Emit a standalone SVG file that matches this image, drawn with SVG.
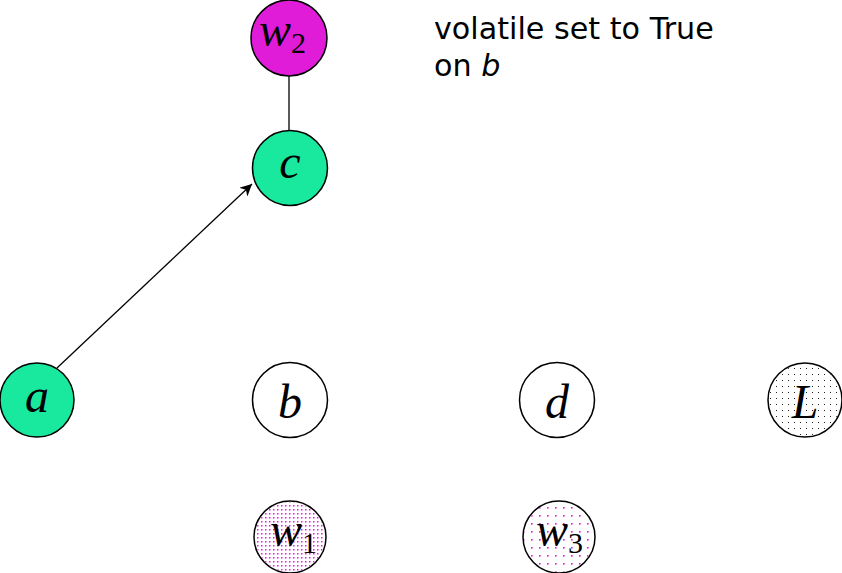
<svg xmlns="http://www.w3.org/2000/svg" width="842" height="573" viewBox="0 0 842 573">
<style>
.n{stroke:#000;stroke-width:1.5}
.m{font-family:"Liberation Serif","DejaVu Serif",serif;font-style:italic;font-size:48px;text-anchor:middle;fill:#000}
.w{text-anchor:start}
.s{font-family:"Liberation Serif","DejaVu Serif",serif;font-style:normal;font-size:30px}
.t{font-family:"DejaVu Sans",sans-serif;font-size:30.2px;fill:#000}
.e{stroke:#000;stroke-width:1.3;fill:none}
</style>
<defs>
<pattern id="pL" width="6" height="6" patternUnits="userSpaceOnUse"><rect x="2" y="2" width="1" height="1" fill="#222"/></pattern>
<pattern id="pW1" width="4" height="4" patternUnits="userSpaceOnUse"><rect x="1" y="1" width="1.5" height="1.5" fill="#e81ce0"/></pattern>
<pattern id="pW3" width="8" height="8" patternUnits="userSpaceOnUse"><rect x="3" y="3" width="1.6" height="1.6" fill="#e01cd8"/></pattern>
<marker id="ar" viewBox="0 0 10 10" refX="10" refY="5" markerWidth="12" markerHeight="12" markerUnits="userSpaceOnUse" orient="auto"><path d="M0,0 L10,5 L0,10 L3,5 z" fill="#000"/></marker>
</defs>
<g id="edges">
<line class="e" x1="289" y1="76" x2="289" y2="130"/>
<line class="e" x1="57" y1="368" x2="252" y2="184" marker-end="url(#ar)"/>
</g>
<g id="w2"><circle class="n" cx="289" cy="38" r="38" fill="#e01cd8"/><text class="m w" x="259" y="46">w<tspan class="s" dy="7">2</tspan></text></g>
<g id="c"><circle class="n" cx="290" cy="168" r="37.5" fill="#19e99e"/><text class="m" x="290" y="178">c</text></g>
<g id="a"><circle class="n" cx="37" cy="400" r="37" fill="#19e99e"/><text class="m" x="37" y="412">a</text></g>
<g id="b"><circle class="n" cx="290" cy="400" r="37.5" fill="#fff"/><text class="m" x="290" y="418">b</text></g>
<g id="d"><circle class="n" cx="557" cy="400" r="37.5" fill="#fff"/><text class="m" x="557" y="418">d</text></g>
<g id="L"><circle class="n" cx="805" cy="400" r="37" fill="#fff"/><circle cx="805" cy="400" r="36" fill="url(#pL)"/><text class="m" x="805" y="418">L</text></g>
<g id="w1"><circle class="n" cx="290" cy="537" r="36" fill="#fff"/><circle cx="290" cy="537" r="35" fill="url(#pW1)"/><text class="m w" x="270" y="546">w<tspan class="s" dy="7">1</tspan></text></g>
<g id="w3"><circle class="n" cx="559" cy="537" r="36" fill="#fff"/><circle cx="559" cy="537" r="35" fill="url(#pW3)"/><text class="m w" x="536" y="546">w<tspan class="s" dy="7">3</tspan></text></g>
<g id="note"><text class="t" x="434" y="39">volatile set to True</text><text class="t" x="434" y="76">on <tspan font-style="italic">b</tspan></text></g>
</svg>
